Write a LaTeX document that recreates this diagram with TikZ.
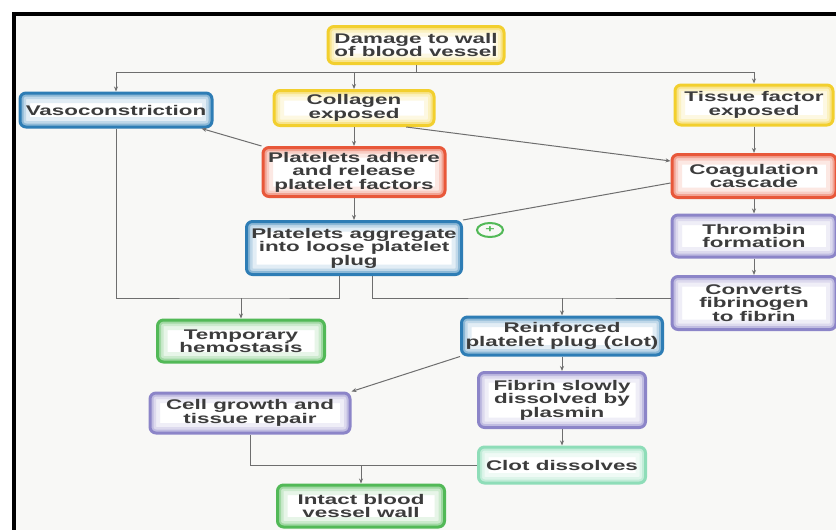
\documentclass[tikz,border=0pt]{standalone}
\usepackage{fontspec}
\newfontfamily\boxfont{Liberation Sans}[FakeStretch=1.6]
\usetikzlibrary{positioning,arrows.meta,shapes.geometric}

\definecolor{yel}{HTML}{F2CF2E}
\definecolor{blu}{HTML}{2E7DB5}
\definecolor{red}{HTML}{E8583A}
\definecolor{pur}{HTML}{8C85C8}
\definecolor{grn}{HTML}{52B957}
\definecolor{tea}{HTML}{8EDDB8}
\definecolor{txt}{HTML}{3C3C3C}
\definecolor{wire}{HTML}{6E6E6E}
\definecolor{paper}{HTML}{F8F8F6}

\tikzset{
  box/.style={rounded corners=6pt, line width=3pt, fill=white, align=center,
    inner sep=2pt, text=txt, font=\boxfont\bfseries\fontsize{14}{13.5}\selectfont,
    path picture={
      \draw[#1!14, line width=20pt]
        (path picture bounding box.south west) rectangle (path picture bounding box.north east);
      \draw[#1!30, line width=12pt]
        (path picture bounding box.south west) rectangle (path picture bounding box.north east);
      \draw[#1!55, line width=7pt]
        (path picture bounding box.south west) rectangle (path picture bounding box.north east);
    }, draw=#1},
  yelbox/.style={box=yel},
  blubox/.style={box=blu},
  redbox/.style={box=red},
  purbox/.style={box=pur},
  grnbox/.style={box=grn},
  teabox/.style={box=tea}
}

\begin{document}
\begin{tikzpicture}[x=1pt,y=-1pt,on grid,>={Stealth[length=5pt,width=4pt]},
    color=wire,line width=1pt]
    \useasboundingbox (0,0) rectangle (836,530);
    \fill[paper] (16,16) rectangle (836,530);
    \draw[black,line width=4pt] (14,530) -- (14,14) -- (836,14);

    % top row
    \node[yelbox,minimum width=176,minimum height=37] (damage) at (416,45) {Damage to wall\\of blood vessel};
    \node[blubox,minimum width=192,minimum height=34] (vaso) at (116,110) {Vasoconstriction};
    \node[yelbox,minimum width=160,minimum height=35] (collagen) at (354,108) {Collagen\\exposed};
    \node[yelbox,minimum width=158,minimum height=40] (tissue) at (754,105) {Tissue factor\\exposed};

    % platelet column
    \node[redbox,minimum width=182,minimum height=49] (adhere) [below=64pt of collagen] {Platelets adhere\\and release\\platelet factors};
    \node[blubox,minimum width=215,minimum height=53] (aggregate) [below=76pt of adhere] {Platelets aggregate\\into loose platelet\\plug};
    \node[draw=grn,ellipse,line width=2pt,minimum width=26,minimum height=14,inner sep=0pt,text=grn,
      font=\boxfont\bfseries\fontsize{10}{10}\selectfont] (feedback) at (490,230) {+};

    % coagulation column
    \node[redbox,minimum width=164,minimum height=43] (coag) [below=71pt of tissue] {Coagulation\\cascade};
    \node[purbox,minimum width=164,minimum height=42] (thrombin) [below=60pt of coag] {Thrombin\\formation};
    \node[purbox,minimum width=164,minimum height=53] (converts) [below=67pt of thrombin] {Converts\\fibrinogen\\to fibrin};

    % lower part
    \node[grnbox,minimum width=167,minimum height=42] (temp) at (241,341) {Temporary\\hemostasis};
    \node[blubox,minimum width=201,minimum height=38] (reinforced) at (562,336) {Reinforced\\platelet plug (clot)};
    \node[purbox,minimum width=167,minimum height=55] (fibrin) [below=64pt of reinforced] {Fibrin slowly\\dissolved by\\plasmin};
    \node[teabox,minimum width=167,minimum height=36] (clot) [below=65pt of fibrin] {Clot dissolves};
    \node[purbox,minimum width=200,minimum height=40] (cellgrowth) at (250,413) {Cell growth and\\tissue repair};
    \node[grnbox,minimum width=167,minimum height=42] (intact) at (361,506) {Intact blood\\vessel wall};

    \coordinate (split) at (416,72);
    \coordinate (join1) at (241,298);
    \coordinate (join2) at (562,298);
    \coordinate (join3) at (361,465);

    \draw (damage) -- (split);
    \draw[->] (split) -| (vaso);
    \draw[->] (split) -| (collagen);
    \draw[->] (split) -| (tissue);

    \path[->]
    (collagen) edge (adhere)
    (adhere) edge (aggregate)
    (tissue) edge (coag)
    (coag) edge (thrombin)
    (thrombin) edge (converts)
    (reinforced) edge (fibrin)
    (fibrin) edge (clot)
    (join1) edge (temp)
    (join2) edge (reinforced)
    (join3) edge (intact)
    ;

    \draw[->] (adhere.north west) -- ([xshift=-12pt]vaso.south east);
    \draw[->] (collagen.-20) -- ([yshift=15pt]coag.west);
    \draw ([yshift=-7pt]coag.west) -- (aggregate.north east);

    \draw (vaso) |- (join1) -- ([xshift=-15pt]aggregate.south |- join1) -- ([xshift=-15pt]aggregate.south);
    \draw ([xshift=18pt]aggregate.south) |- (join2) -- (join2 -| converts.west);
    \draw[->] (reinforced.south west) -- (cellgrowth.north east);
    \draw (cellgrowth) |- (clot);
  \end{tikzpicture}
\end{document}
